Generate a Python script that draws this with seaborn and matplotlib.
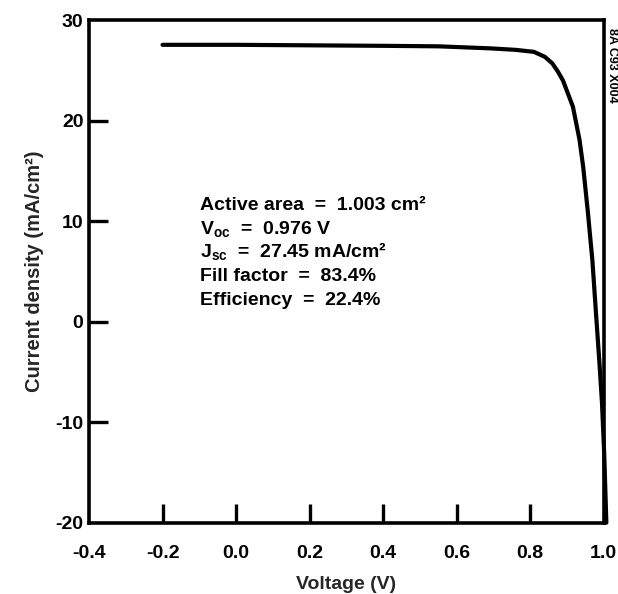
import matplotlib
matplotlib.use("Agg")
import matplotlib.pyplot as plt
import seaborn as sns

# J-V curve
voltage = [-0.2, 0.0, 0.2, 0.4, 0.55, 0.69, 0.76, 0.81, 0.84, 0.86, 0.875,
           0.889, 0.916, 0.934, 0.944, 0.957, 0.969, 0.980, 0.988, 0.995,
           1.001, 1.007]
current = [27.55, 27.55, 27.5, 27.45, 27.4, 27.2, 27.05, 26.85, 26.35, 25.7,
           24.9, 24.0, 21.4, 18.1, 15.4, 10.8, 6.1, 0.2, -4.0, -8.0,
           -13.0, -20.0]

x_ticks = [-0.4, -0.2, 0.0, 0.2, 0.4, 0.6, 0.8, 1.0]
x_tick_labels = ["-0.4", "-0.2", "0.0", "0.2", "0.4", "0.6", "0.8", "1.0"]
y_ticks = [-20, -10, 0, 10, 20, 30]
y_tick_labels = ["-20", "-10", "0", "10", "20", "30"]

info_lines = [
    "Active area  =  1.003 cm\u00b2",
    "V$_{\\mathrm{oc}}$  =  0.976 V",
    "J$_{\\mathrm{sc}}$  =  27.45 mA/cm\u00b2",
    "Fill factor  =  83.4%",
    "Efficiency  =  22.4%",
]

sns.set_style("white")
plt.rcParams["font.family"] = ["Liberation Sans", "DejaVu Sans"]
plt.rcParams["font.weight"] = "bold"
plt.rcParams["mathtext.fontset"] = "custom"
plt.rcParams["mathtext.rm"] = "Liberation Sans:bold"
plt.rcParams["mathtext.it"] = "Liberation Sans:bold"
plt.rcParams["mathtext.bf"] = "Liberation Sans:bold"

fig = plt.figure(figsize=(6.18, 5.94), dpi=100)
ax = fig.add_axes([0.144, 0.12, 0.833, 0.846])

sns.lineplot(x=voltage, y=current, ax=ax, color="black", linewidth=3,
             sort=False, estimator=None)
ax.lines[0].set_clip_on(False)

ax.set_xlim(-0.4, 1.0)
ax.set_ylim(-20, 30)
ax.set_xticks(x_ticks)
ax.set_xticklabels(x_tick_labels, fontsize=14, fontweight="bold")
ax.set_yticks(y_ticks)
ax.set_yticklabels(y_tick_labels, fontsize=14, fontweight="bold")

ax.tick_params(axis="both", direction="in", length=14, width=2.4,
               color="black", labelcolor="black", bottom=True, left=True,
               top=False, right=False)
ax.tick_params(axis="x", pad=16)
ax.tick_params(axis="y", pad=4)
# no tick marks at the corners
for t in (ax.xaxis.get_major_ticks()[0], ax.xaxis.get_major_ticks()[-1],
          ax.yaxis.get_major_ticks()[0], ax.yaxis.get_major_ticks()[-1]):
    t.tick1line.set_visible(False)

for s in ax.spines.values():
    s.set_visible(True)
    s.set_linewidth(2.6)
    s.set_color("black")

ax.set_xlabel("Voltage (V)", fontsize=14, fontweight="bold", labelpad=10)
ax.set_ylabel("Current density (mA/cm\u00b2)", fontsize=14.5, fontweight="bold",
              labelpad=8)

# annotation block, one baseline per line
baselines = [11.1, 8.75, 6.4, 4.05, 1.65]
for txt, yb in zip(info_lines, baselines):
    ax.text(-0.098, yb, txt, fontsize=14, fontweight="bold", va="baseline",
            ha="left", color="black")

fig.text(0.99, 0.89, "8A C93 X004", rotation=270, fontsize=9,
         fontweight="bold", ha="center", va="center", color="black")

fig.savefig("out.png", dpi=100, facecolor="white")
